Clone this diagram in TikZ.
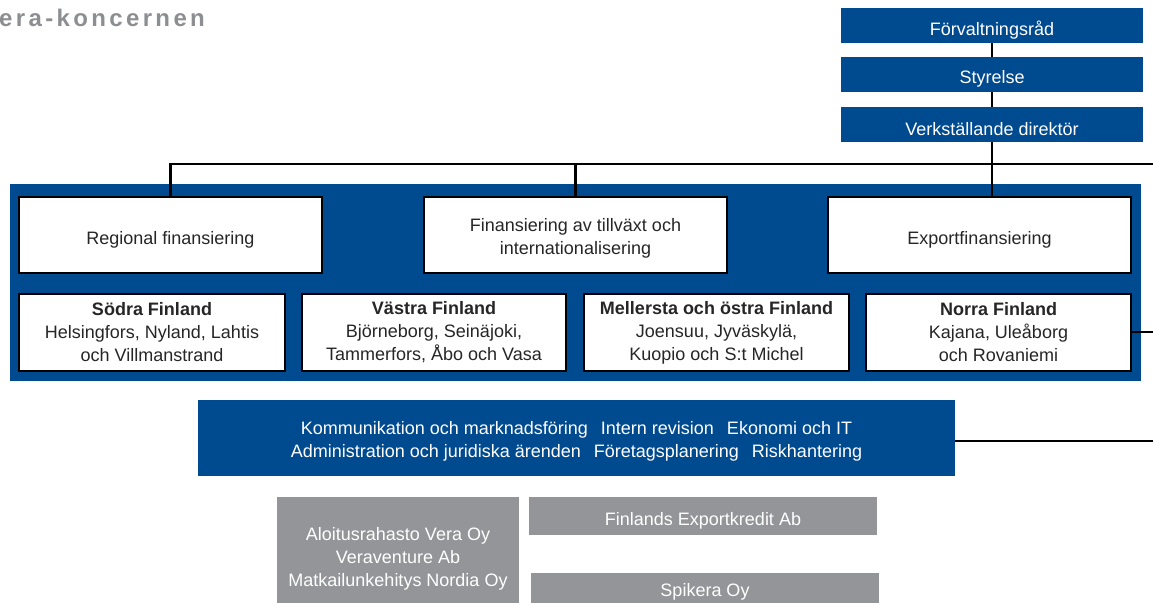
\documentclass[tikz,border=0pt]{standalone}
\usepackage{fontspec}
\setmainfont{Liberation Sans}
\newfontfamily\titlefont[LetterSpace=14]{Liberation Sans}
\definecolor{vblue}{HTML}{004A8F}
\definecolor{vgrey}{HTML}{939598}
\definecolor{ttlgrey}{HTML}{8C8E91}
\definecolor{ink}{HTML}{262626}
\begin{document}
\begin{tikzpicture}[x=1pt,y=-1pt,
  txt/.style={font=\fontsize{18}{23}\selectfont,align=center,inner sep=0pt},
  bluebox/.style={inner sep=0pt,fill=vblue},
  bluetxt/.style={txt,text=white},
  whitebox/.style={inner sep=0pt,fill=white,draw=black,line width=2.6pt},
  whitetxt/.style={txt,text=ink},
  greybox/.style={inner sep=0pt,fill=vgrey},
  conn/.style={line width=2.4pt,draw=black}]
\useasboundingbox (0,0) rectangle (1153,602);
\clip (0,0) rectangle (1153,602);

% title
\node[anchor=base west,inner sep=0pt,text=ttlgrey,font=\titlefont\fontsize{24}{28}\bfseries] (title) at (-1,27) {era-koncernen};

% top management
\node[bluebox,minimum width=302,minimum height=35,label={[bluetxt,yshift=-4.5pt]center:Förvaltningsråd}] (fr) at (992,25.5) {};
\node[bluebox,minimum width=302,minimum height=35,label={[bluetxt,yshift=-4.5pt]center:Styrelse}] (st) at (992,74.5) {};
\node[bluebox,minimum width=302,minimum height=35,label={[bluetxt,yshift=-4.5pt]center:Verkställande direktör}] (vd) at (992,124.5) {};

% blue background block
\node[fill=vblue,inner sep=0pt,minimum width=1131,minimum height=197] (bg) at (575.5,282.5) {};

% connectors
\coordinate (hr) at (1153,164);
\coordinate (nr) at (1153,332);
\coordinate (sr) at (1153,441);
\draw[conn] (fr.south) -- (st.north);
\draw[conn] (st.south) -- (vd.north);

% business areas
\node[whitebox,minimum width=303,minimum height=76,label={[whitetxt,yshift=-4.5pt]center:Regional finansiering}] (reg) at (170.5,235) {};
\node[whitebox,minimum width=303,minimum height=76,label={[whitetxt,yshift=-3.5pt]center:{Finansiering av tillväxt och\\internationalisering}}] (fin) at (575.5,235) {};
\node[whitebox,minimum width=303,minimum height=76,label={[whitetxt,yshift=-4.5pt]center:Exportfinansiering}] (exp) at (979.5,235) {};

\draw[conn] (reg.north) -- (reg.north |- hr) -- (hr);
\draw[conn] (fin.north) -- (fin.north |- hr);
\draw[conn] (vd.south) -- (vd.south |- exp.north);

% regions
\node[whitebox,minimum width=266,minimum height=77,label={[whitetxt]center:{{\bfseries Södra Finland}\\Helsingfors, Nyland, Lahtis\\och Villmanstrand}}] (sod) at (152,332.5) {};
\node[whitebox,minimum width=264,minimum height=77,label={[whitetxt]center:{{\bfseries Västra Finland}\\Björneborg, Seinäjoki,\\Tammerfors, Åbo och Vasa}}] (vas) at (434,332.5) {};
\node[whitebox,minimum width=265,minimum height=77,label={[whitetxt]center:{{\bfseries Mellersta och östra Finland}\\Joensuu, Jyväskylä,\\Kuopio och S:t Michel}}] (mel) at (716.5,332.5) {};
\node[whitebox,minimum width=265,minimum height=77,label={[whitetxt]center:{{\bfseries Norra Finland}\\Kajana, Uleåborg\\och Rovaniemi}}] (nor) at (998.5,332.5) {};
\draw[conn] (nor.east |- nr) -- (nr);

% services
\node[bluebox,minimum width=757,minimum height=76,label={[bluetxt,yshift=-3.5pt]center:{Kommunikation och marknadsföring\hspace{13pt}Intern revision\hspace{13pt}Ekonomi och IT\\Administration och juridiska ärenden\hspace{13pt}Företagsplanering\hspace{13pt}Riskhantering}}] (svc) at (576.5,438) {};
\draw[conn] (svc.east |- sr) -- (sr);

% subsidiaries
\node[greybox,minimum width=242,minimum height=120,label={[bluetxt,yshift=-1.5pt]center:{Aloitusrahasto Vera Oy\\Veraventure Ab\\Matkailunkehitys Nordia Oy}}] (alo) at (398,557) {};
\node[greybox,minimum width=348,minimum height=38,label={[bluetxt,yshift=-4.5pt]center:Finlands Exportkredit Ab}] (exk) at (703,516) {};
\node[greybox,minimum width=348,minimum height=38,label={[bluetxt,yshift=0pt]center:Spikera Oy}] (spi) at (705,592) {};
\end{tikzpicture}
\end{document}
